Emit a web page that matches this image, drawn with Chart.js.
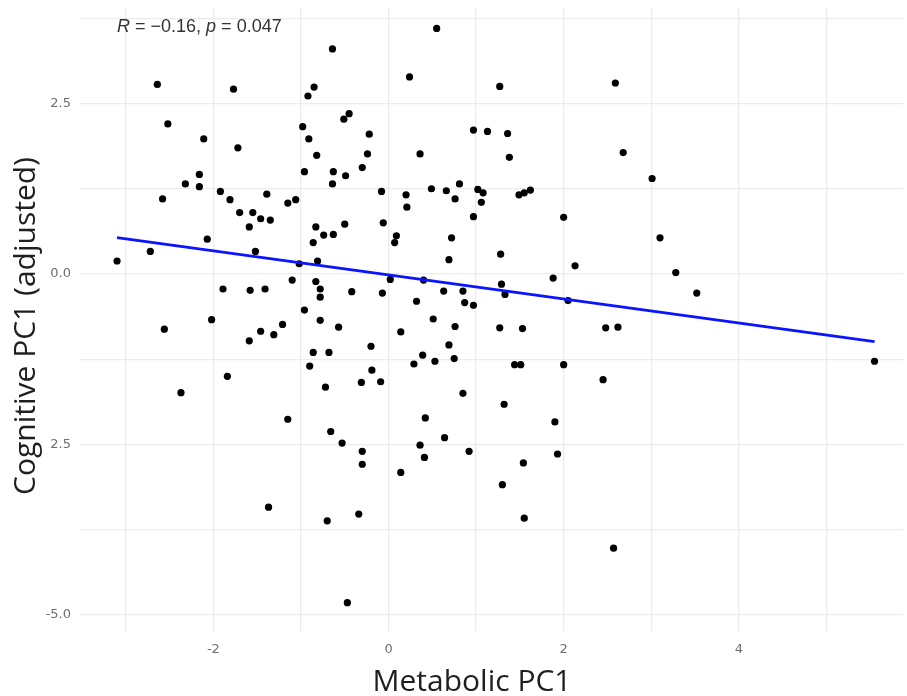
<!DOCTYPE html>
<html>
<head>
<meta charset="utf-8">
<script src="https://cdn.jsdelivr.net/npm/chart.js@4"></script>
<style>
  body { margin: 0; background: #fff; }
  #wrap { width: 907px; height: 696px; }
</style>
</head>
<body>
<div id="wrap"><canvas id="chart" width="907" height="696"></canvas></div>
<script>
// values
const metabolicPC1 = [
  -2.64, -1.77, -2.52, -2.11, -1.72, -2.16, -2.32, -2.16, -2.58, -1.92,
  -1.81, -1.39, -1.15, -1.06, -1.70, -1.55, -1.46, -1.35, -1.59, -2.07,
  -2.72, -1.52, -3.10, -1.02, -1.10, -1.89, -1.58, -1.41, -2.02, -2.56,
  -1.59, -1.46, -1.31, -1.21, -1.84, -2.37, -1.15, -1.37, -0.64, 0.55,
  0.24, -0.92, -0.85, -0.51, -0.45, -0.98, -0.91, -0.22, -0.82, -0.24,
  -0.96, -0.63, -0.30, -0.64, -0.49, 0.36, 0.97, 1.13, -0.08, 0.20,
  0.21, 0.49, 0.66, 0.81, 0.76, 1.02, 1.08, 1.06, 0.97, -0.06,
  -0.50, -0.83, -0.74, -0.63, -0.86, 0.09, 0.07, 0.72, -0.81, 0.69,
  0.02, 0.40, -0.83, -0.78, -0.78, -0.42, -0.07, 0.32, 0.63, 0.85,
  0.87, 0.97, -0.96, -0.78, -0.57, 0.51, 0.76, 0.14, -0.20, 0.69,
  -0.86, -0.68, -0.90, -0.19, -0.31, -0.09, -0.72, 0.29, 0.39, 0.53,
  0.75, 0.85, 0.42, -0.66, -0.53, -0.30, -0.30, 0.36, 0.41, 0.64,
  0.92, 0.14, -0.70, -0.34, -0.47, 1.27, 1.36, 1.38, 2.59, 2.68,
  3.01, 1.49, 1.55, 1.62, 2.00, 3.10, 1.28, 2.13, 1.88, 3.28,
  1.29, 1.33, 2.05, 3.52, 1.27, 1.53, 2.48, 2.62, 1.44, 1.51,
  2.00, 2.45, 1.32, 1.90, 1.93, 1.54, 1.30, 1.55, 2.57, 5.55
];
const cognitivePC1 = [
  2.78, 2.71, 2.20, 1.98, 1.85, 1.46, 1.32, 1.28, 1.10, 1.21,
  1.09, 1.17, 1.04, 1.09, 0.90, 0.90, 0.81, 0.79, 0.69, 0.51,
  0.33, 0.33, 0.19, 0.15, -0.09, -0.22, -0.24, -0.22, -0.67, -0.81,
  -0.98, -0.84, -0.89, -0.74, -1.50, -1.74, -2.13, -3.42, 3.30, 3.60,
  2.89, 2.61, 2.74, 2.27, 2.35, 2.16, 1.98, 2.05, 1.74, 1.76,
  1.50, 1.50, 1.56, 1.32, 1.44, 1.76, 2.11, 2.09, 1.21, 1.16,
  0.98, 1.25, 1.22, 1.32, 1.10, 1.24, 1.19, 1.05, 0.84, 0.75,
  0.73, 0.69, 0.57, 0.58, 0.46, 0.56, 0.46, 0.53, 0.19, 0.21,
  -0.08, -0.09, -0.11, -0.22, -0.34, -0.26, -0.28, -0.40, -0.25, -0.25,
  -0.42, -0.46, -0.53, -0.68, -0.78, -0.66, -0.77, -0.85, -1.06, -1.04,
  -1.15, -1.15, -1.35, -1.41, -1.59, -1.58, -1.66, -1.32, -1.19, -1.28,
  -1.24, -1.75, -2.11, -2.31, -2.48, -2.60, -2.79, -2.51, -2.69, -2.40,
  -2.60, -2.91, -3.62, -3.52, -4.82, 2.75, 2.06, 1.71, 2.80, 1.78,
  1.40, 1.16, 1.19, 1.23, 0.83, 0.53, 0.29, 0.12, -0.06, 0.02,
  -0.15, -0.30, -0.39, -0.28, -0.79, -0.80, -0.79, -0.78, -1.33, -1.33,
  -1.33, -1.55, -1.91, -2.17, -2.64, -2.77, -3.09, -3.58, -4.02, -1.28
];

// fitted line (lm), ends at the data range
const fitX = [-3.10, 5.55];
const fitY = [0.534, -0.991];

const xTickValues = [-3, -2, -1, 0, 1, 2, 3, 4, 5];
const xTickLabels = ['', '-2', '', '0', '', '2', '', '4', ''];
const yTickValues = [-5, -3.75, -2.5, -1.25, 0, 1.25, 2.5, 3.75];
const yTickLabels = ['-5.0', '', '2.5', '', '0.0', '', '2.5', ''];

const corLabel = { x: -3.10, y: 3.62, r: '\u22120.16', p: '0.047' };

let points = metabolicPC1.map((x, i) => ({ x: x, y: cognitivePC1[i] }));
let fitLine = fitX.map((x, i) => ({ x: x, y: fitY[i] }));

// axis titles + R/p label
const extraText = {
    id: 'extraText',
    afterDraw(chart) {
        const ctx = chart.ctx;
        const area = chart.chartArea;
        ctx.save();
        ctx.fillStyle = '#1f1f1f';
        ctx.font = '30px "Open Sans"';
        ctx.textAlign = 'center';
        ctx.textBaseline = 'alphabetic';
        ctx.fillText('Metabolic PC1', area.left + 392, 691);

        ctx.save();
        ctx.translate(35, area.top + 318);
        ctx.rotate(-Math.PI / 2);
        ctx.fillText('Cognitive PC1 (adjusted)', 0, 0);
        ctx.restore();

        // R = -0.16, p = 0.047
        let px = chart.scales.x.getPixelForValue(corLabel.x);
        let py = chart.scales.y.getPixelForValue(corLabel.y);
        ctx.fillStyle = '#333333';
        ctx.textAlign = 'left';
        ctx.textBaseline = 'middle';
        const parts = [
            ['italic', 'R'], ['normal', ' = ' + corLabel.r + ', '],
            ['italic', 'p'], ['normal', ' = ' + corLabel.p]
        ];
        for (const [style, txt] of parts) {
            ctx.font = style + ' 18px "Liberation Sans"';
            ctx.fillText(txt, px, py);
            px += ctx.measureText(txt).width;
        }
        ctx.restore();
    }
};

new Chart(document.getElementById('chart'), {
    type: 'scatter',
    data: {
        datasets: [{
            type: 'line',
            data: fitLine,
            borderColor: '#0a14ff',
            borderWidth: 2.8,
            pointRadius: 0,
            fill: false,
            order: 0
        }, {
            data: points,
            backgroundColor: '#000000',
            borderWidth: 0,
            pointRadius: 3.6,
            order: 1
        }]
    },
    options: {
        responsive: false,
        animation: false,
        layout: { padding: { top: 8, right: 0, left: 0, bottom: 0 } },
        plugins: {
            legend: { display: false },
            tooltip: { enabled: false }
        },
        scales: {
            x: {
                type: 'linear',
                min: -3.523,
                max: 5.875,
                afterBuildTicks: (s) => { s.ticks = xTickValues.map(v => ({ value: v })); },
                afterFit: (s) => {
                    s.height = 65;
                    s.paddingLeft = 0;
                    s.paddingRight = 0;
                },
                border: { display: false },
                grid: { color: '#ececec', lineWidth: 1.3, drawTicks: false },
                ticks: {
                    padding: 11,
                    color: '#6e6e6e',
                    font: { family: 'DejaVu Sans', size: 13 },
                    maxRotation: 0,
                    autoSkip: false,
                    callback: (v, i) => xTickLabels[i]
                }
            },
            y: {
                type: 'linear',
                min: -5.235,
                max: 3.90,
                afterBuildTicks: (s) => { s.ticks = yTickValues.map(v => ({ value: v })); },
                afterFit: (s) => {
                    s.width = 80;
                    s.paddingTop = 0;
                    s.paddingBottom = 0;
                },
                border: { display: false },
                grid: { color: '#ececec', lineWidth: 1.3, drawTicks: false },
                ticks: {
                    padding: 9,
                    color: '#6e6e6e',
                    font: { family: 'DejaVu Sans', size: 13 },
                    autoSkip: false,
                    callback: (v, i) => yTickLabels[i]
                }
            }
        }
    },
    plugins: [extraText]
});
</script>
</body>
</html>
